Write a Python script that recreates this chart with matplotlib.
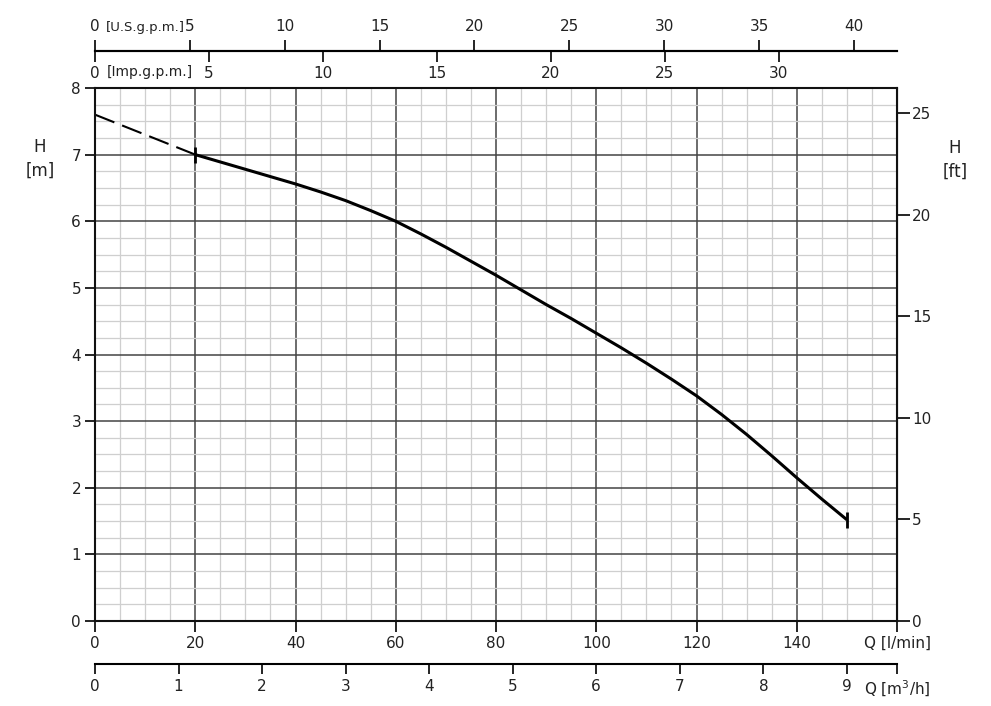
import matplotlib
matplotlib.use("Agg")
from matplotlib import pyplot as plt
from matplotlib.ticker import MultipleLocator

# pump curve, Q in l/min, H in m
q_dashed = [0, 20]
h_dashed = [7.6, 7.0]
q_curve = [20, 25, 30, 35, 40, 45, 50, 55, 60, 65, 70, 75, 80, 85,
           90, 95, 100, 105, 110, 115, 120, 125, 130, 135, 140, 145, 150]
h_curve = [7.0, 6.89, 6.78, 6.67, 6.56, 6.44, 6.31, 6.16, 6.0, 5.81, 5.61, 5.40, 5.19, 4.97,
           4.75, 4.54, 4.32, 4.10, 3.87, 3.63, 3.38, 3.10, 2.80, 2.48, 2.15, 1.83, 1.52]

q_ticks = [0, 20, 40, 60, 80, 100, 120, 140, 160]
q_labels = ['0', '20', '40', '60', '80', '100', '120', '140', 'Q [l/min]']
m3h_ticks = [0, 1, 2, 3, 4, 5, 6, 7, 8, 9, 9.6]
m3h_labels = ['0', '1', '2', '3', '4', '5', '6', '7', '8', '9', 'Q [m$^3$/h]']
us_ticks = [0, 5, 10, 15, 20, 25, 30, 35, 40]
imp_ticks = [0, 5, 10, 15, 20, 25, 30]
h_m_ticks = [0, 1, 2, 3, 4, 5, 6, 7, 8]
h_ft_ticks = [0, 5, 10, 15, 20, 25]

US_GAL = 3.785
IMP_GAL = 4.546
FT = 0.3048

plt.rcParams['font.family'] = ['DejaVu Sans']
plt.rcParams['font.size'] = 11
txt = '#222222'

fig = plt.figure(figsize=(9.91, 7.06), dpi=100)
W, H = 991, 706
left, right, top, bottom = 95, 897, 88, 621
ax = fig.add_axes([left / W, 1 - bottom / H, (right - left) / W, (bottom - top) / H])

ax.set_xlim(0, 160)
ax.set_ylim(0, 8)

# grid
ax.xaxis.set_minor_locator(MultipleLocator(5))
ax.yaxis.set_minor_locator(MultipleLocator(0.25))
ax.set_xticks(q_ticks)
ax.set_xticklabels(q_labels, color=txt)
ax.set_yticks(h_m_ticks)
ax.set_yticklabels([str(t) for t in h_m_ticks], color=txt)
ax.grid(which='major', color='#444444', linewidth=1.1)
ax.grid(which='minor', color='#cfcfcf', linewidth=0.9)
ax.set_axisbelow(True)
ax.tick_params(which='minor', length=0)
ax.tick_params(axis='x', which='major', direction='out', length=8, width=1.2, pad=3)
ax.tick_params(axis='y', which='major', direction='out', length=7, width=1.2, pad=3)
for s in ax.spines.values():
    s.set_linewidth(1.5)
    s.set_color('#111111')

# curve
ax.plot(q_dashed, h_dashed, color='black', linewidth=1.5, dashes=(10, 4))
ax.plot(q_curve, h_curve, color='black', linewidth=2.2, solid_capstyle='butt',
        solid_joinstyle='round')
ax.plot([q_curve[0], q_curve[-1]], [h_curve[0], h_curve[-1]], linestyle='none',
        marker='|', markersize=12, markeredgewidth=2, color='black')

# right axis in ft
ft_ax = ax.secondary_yaxis('right', functions=(lambda h: h / FT, lambda f: f * FT))
ft_ax.set_yticks(h_ft_ticks)
ft_ax.set_yticklabels([str(t) for t in h_ft_ticks], color=txt)
ft_ax.tick_params(length=9, width=1.2, pad=2)

# bottom axis in m3/h
m3h_ax = ax.secondary_xaxis(-(664 - bottom) / (bottom - top),
                            functions=(lambda q: q * 0.06, lambda m: m / 0.06))
m3h_ax.set_xticks(m3h_ticks)
m3h_ax.set_xticklabels(m3h_labels, color=txt)
m3h_ax.tick_params(length=7, width=1.2, pad=4)
for s in m3h_ax.spines.values():
    s.set_linewidth(1.5)

# top axes in gallons per minute, sharing one line
gpm_loc = 1 + (top - 51) / (bottom - top)
us_ax = ax.secondary_xaxis(gpm_loc, functions=(lambda q: q / US_GAL, lambda g: g * US_GAL))
us_ax.set_xticks(us_ticks)
us_ax.set_xticklabels([str(t) for t in us_ticks], color=txt)
us_ax.tick_params(length=8, width=1.2, pad=4)
imp_ax = ax.secondary_xaxis(gpm_loc, functions=(lambda q: q / IMP_GAL, lambda g: g * IMP_GAL))
imp_ax.set_alignment('bottom')
imp_ax.set_xticks(imp_ticks)
imp_ax.set_xticklabels([str(t) for t in imp_ticks], color=txt)
imp_ax.tick_params(length=8, width=1.2, pad=3)
for a in (us_ax, imp_ax):
    for s in a.spines.values():
        s.set_linewidth(1.5)

fig.text(106 / W, 1 - 27 / H, '[U.S.g.p.m.]', ha='left', va='center', color=txt, fontsize=9.5)
fig.text(107 / W, 1 - 72 / H, '[Imp.g.p.m.]', ha='left', va='center', color=txt, fontsize=10)

# axis titles
fig.text(40 / W, 1 - 147 / H, 'H', ha='center', va='center', color=txt, fontsize=12)
fig.text(40 / W, 1 - 171 / H, '[m]', ha='center', va='center', color=txt, fontsize=12)
fig.text(955 / W, 1 - 148 / H, 'H', ha='center', va='center', color=txt, fontsize=12)
fig.text(955 / W, 1 - 172 / H, '[ft]', ha='center', va='center', color=txt, fontsize=12)

fig.savefig('out.png', dpi=100, facecolor='white')
